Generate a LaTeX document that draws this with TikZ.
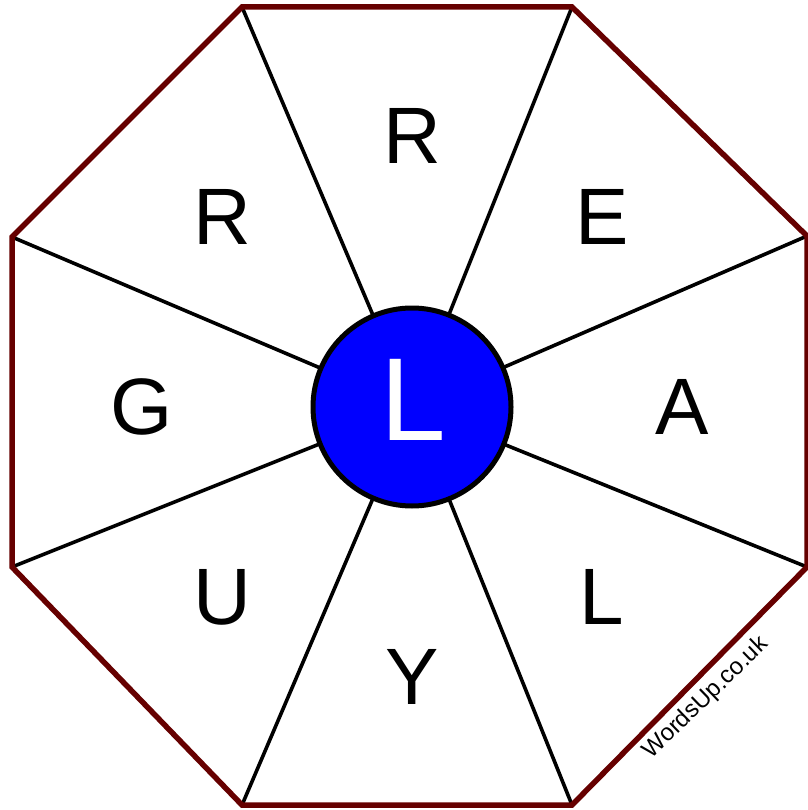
\documentclass[tikz,border=0pt]{standalone}
\usepackage{fontspec}
\setmainfont{Liberation Sans}
\definecolor{rim}{RGB}{102,0,0}
\definecolor{hub}{RGB}{0,0,255}
\begin{document}
\begin{tikzpicture}[x=1pt,y=-1pt,
  spoke/.style={line width=3.6pt,black},
  letter/.style={font=\fontsize{80}{80}\selectfont,inner sep=0pt,anchor=center}]
\useasboundingbox (0,0) rectangle (807,810);
\coordinate (v1) at (242,7);
\coordinate (v2) at (572,7);
\coordinate (v3) at (807,236);
\coordinate (v4) at (807,567);
\coordinate (v5) at (572,805);
\coordinate (v6) at (242,805);
\coordinate (v7) at (12,567);
\coordinate (v8) at (12,237);
\coordinate (c) at (412,407);
\foreach \v in {v1,v2,v3,v4,v5,v6,v7,v8}
  \draw[spoke] (\v) -- (c);
\draw[rim,line width=5.5pt,line join=miter] (v1)--(v2)--(v3)--(v4)--(v5)--(v6)--(v7)--(v8)--cycle;
\node[circle,draw=black,line width=5pt,fill=hub,minimum size=198pt,inner sep=0pt] (hubnode) at (c) {};
\node[font=\fontsize{118}{118}\selectfont,text=white,inner sep=0pt] (lc) at (413,400) {L};
\node[letter] (l1) at (412,136) {R};
\node[letter] (l2) at (602,217) {E};
\node[letter] (l3) at (682,407) {A};
\node[letter] (l4) at (602,597) {L};
\node[letter] (l5) at (412,677) {Y};
\node[letter] (l6) at (222,597) {U};
\node[letter] (l7) at (142,407) {G};
\node[letter] (l8) at (222,217) {R};
\node[font=\fontsize{24}{24}\selectfont,rotate=44,inner sep=0pt] (wm) at (706,698) {WordsUp.co.uk};
\end{tikzpicture}
\end{document}
